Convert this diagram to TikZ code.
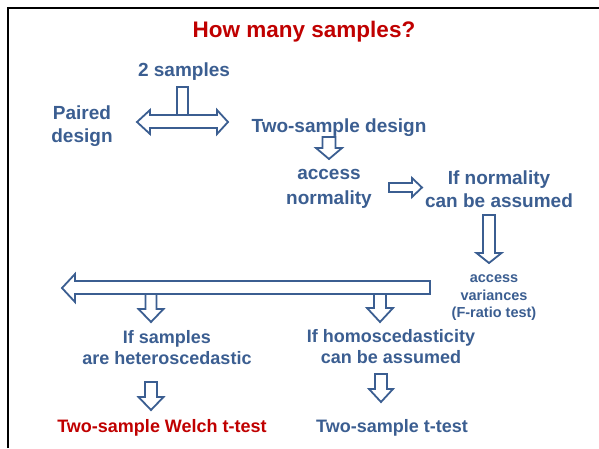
\documentclass[tikz,border=0pt]{standalone}
\usepackage{fontspec}
\setmainfont{Liberation Sans}
\definecolor{flowblue}{RGB}{59,94,145}
\definecolor{flowred}{RGB}{192,0,0}
\tikzset{
  lbl/.style={font=\fontsize{19}{23}\selectfont\bfseries, text=flowblue, align=center, inner sep=0pt},
  lbls/.style={font=\fontsize{18}{21}\selectfont\bfseries, text=flowblue, align=center, inner sep=0pt},
  lbltiny/.style={font=\fontsize{14.5}{17.5}\selectfont\bfseries, text=flowblue, align=center, inner sep=0pt},
  barrow/.style={draw=flowblue, fill=white, line width=1.8pt, line join=miter},
  frameline/.style={draw=black, line width=2.5pt}
}
% vertical block arrow: centre x, top y, head base y, tip y, shaft half width, head half width
\newcommand\dblock[6]{%
  \path[barrow] ({#1-#5},#2) -- ({#1-#5},#3) -- ({#1-#6},#3) -- (#1,#4)
    -- ({#1+#6},#3) -- ({#1+#5},#3) -- ({#1+#5},#2) -- cycle;}
\begin{document}
\begin{tikzpicture}[x=1pt, y=-1pt]
\useasboundingbox (0,0) rectangle (599,448);
\fill[white] (0,0) rectangle (599,448);
% page frame (left and top edges)
\draw[frameline] (8,448) -- (8,8) -- (599,8);

% title and labels
\node[font=\fontsize{22.5}{26}\selectfont\bfseries, text=flowred, inner sep=0pt] (title) at (304,32) {How many samples?};
\node[lbl] (two) at (184,72) {2 samples};
\node[lbl] (paired) at (82,126) {Paired\\design};
\node[lbl] (twodesign) at (339,128) {Two-sample design};
\node[lbl, font=\fontsize{19}{24.5}\selectfont\bfseries] (accnorm) at (329,189) {access\\normality};
\node[lbl] (ifnorm) at (499,189) {If normality\\can be assumed};
\node[lbltiny] (accvar) at (494,298) {access\\variances\\(F-ratio test)};
\node[lbls] (hetero) at (167,348) {If samples\\are heteroscedastic};
\node[lbls] (homo) at (391,347) {If homoscedasticity\\can be assumed};
\node[font=\fontsize{18}{21}\selectfont\bfseries, text=flowred, inner sep=0pt] (welch) at (162,428) {Two-sample Welch t-test};
\node[lbls] (ttest) at (392,428) {Two-sample t-test};

% split arrow below "2 samples"
\path[barrow] (177,115) rectangle (188,87);
\path[barrow] (137,122) -- (150,110) -- (150,115) -- (217,115) -- (217,110) -- (228,122)
  -- (217,134) -- (217,128) -- (150,128) -- (150,134) -- cycle;
\draw[flowblue, line width=1.8pt] (177,115) -- (177,87) -- (188,87) -- (188,115);

% two-sample design -> access normality
\dblock{329}{137}{148}{159}{6.5}{13}
% access normality -> if normality
\path[barrow] (389,183) -- (412,183) -- (412,178) -- (422,187.5) -- (412,197) -- (412,192)
  -- (389,192) -- cycle;
% if normality -> access variances
\dblock{489}{215}{253}{263}{6}{12.5}
% long arrow to the left
\path[barrow] (430,281) -- (75,281) -- (75,274) -- (62,288) -- (75,302) -- (75,294)
  -- (430,294) -- cycle;
% branches
\dblock{151}{294}{309}{322}{5.5}{12.5}
\dblock{380}{294}{308}{322}{6}{13}
\dblock{151}{382}{397}{410}{6}{12.5}
\dblock{381}{374}{389}{402}{6}{12}
\end{tikzpicture}
\end{document}
